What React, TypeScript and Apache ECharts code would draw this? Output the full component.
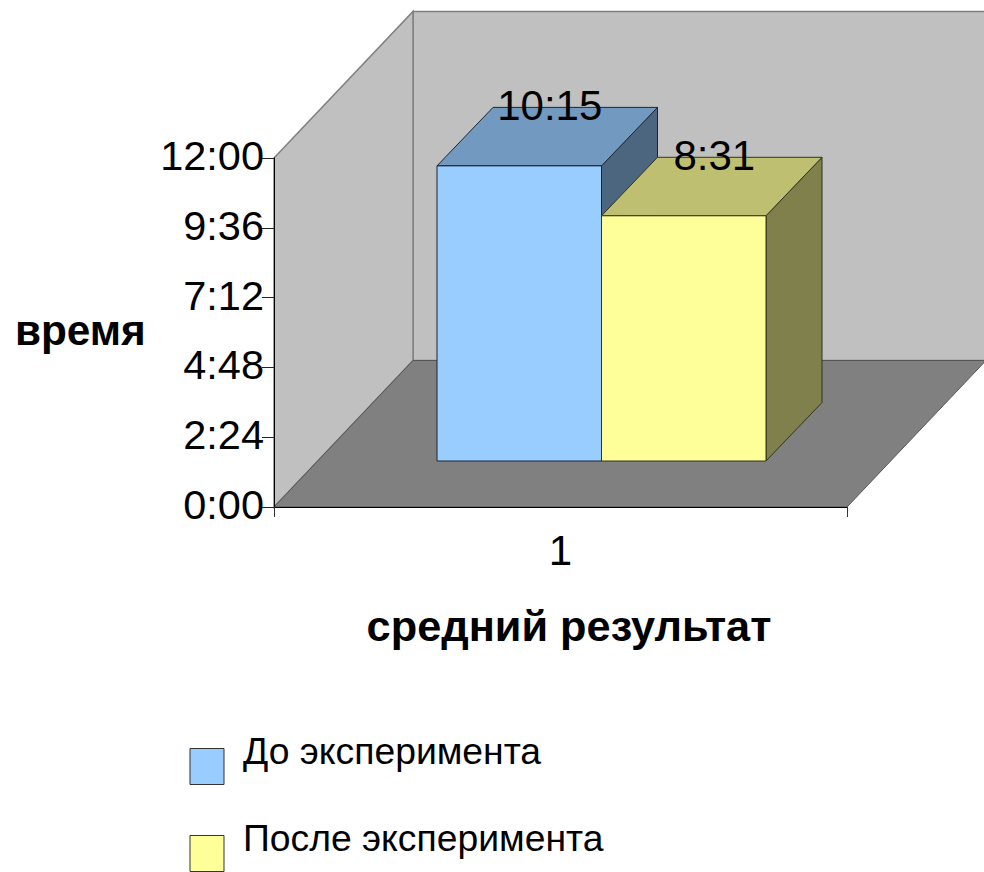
import React, { useEffect, useRef } from "react";
import * as echarts from "echarts";

const FONT = '"Liberation Sans", Arial, sans-serif';

const categories = ["1"];
const seriesNames = ["До эксперимента", "После эксперимента"];
// Average time in minutes (10:15 and 8:31).
const beforeValues = [615];
const afterValues = [511];
const yTickStep = 144;
const yMax = 720;

const xTitle = "средний результат";
const yTitle = "время";

// Oblique projection of the 3D box.
const WALL_DX = 139;
const WALL_DY = 146.5;
const BAR_SHIFT_X = 41;
const BAR_SHIFT_Y = 46;
const BAR_DX = 56;
const BAR_DY = 58.5;
const BAR_BAND = 164.5 / 573;
const FRONT_SCALE = 0.99;

const faces = [
  { front: "#99ccff", top: "#7299bf", side: "#4c6680", edge: "#1a2633" },
  { front: "#ffff99", top: "#bfbf72", side: "#80804c", edge: "#33331e" },
];

const clock = (minutes: number) =>
  `${Math.floor(minutes / 60)}:${String(minutes % 60).padStart(2, "0")}`;

const poly = (points: number[][], fill: string, stroke: string, lineWidth = 1) => ({
  type: "polygon",
  shape: { points },
  style: { fill, stroke, lineWidth },
});

function renderWalls(_: any, api: any) {
  const [x0] = api.coord([0, 0]);
  const band = api.size([1, 0])[0];
  const x1 = x0 - band / 2;
  const x2 = x0 + band / 2;
  const yBase = api.coord([0, 0])[1];
  const yTop = api.coord([0, yMax])[1];
  const dx = WALL_DX;
  const dy = WALL_DY;
  return {
    type: "group",
    children: [
      poly(
        [[x1 + dx, yTop - dy], [x2 + dx, yTop - dy], [x2 + dx, yBase - dy], [x1 + dx, yBase - dy]],
        "#c0c0c0",
        "#808080",
        1.5
      ),
      poly(
        [[x1, yTop], [x1 + dx, yTop - dy], [x1 + dx, yBase - dy], [x1, yBase]],
        "#c0c0c0",
        "#808080",
        1.5
      ),
      poly(
        [[x1, yBase], [x2, yBase], [x2 + dx, yBase - dy], [x1 + dx, yBase - dy]],
        "#808080",
        "#555555",
        1
      ),
    ],
  };
}

function makeBarRenderer(index: number) {
  return (_: any, api: any) => {
    const value = api.value(1);
    const center = api.coord([api.value(0), 0])[0];
    const zeroY = api.coord([0, 0])[1];
    const band = api.size([1, 0])[0];
    const w = band * BAR_BAND;
    const left = center + BAR_SHIFT_X + (index - 1) * w;
    const right = left + w;
    const bottom = zeroY - BAR_SHIFT_Y;
    const top = bottom - (zeroY - api.coord([0, value])[1]) * FRONT_SCALE;
    const c = faces[index];
    return {
      type: "group",
      children: [
        poly(
          [[right, top], [right + BAR_DX, top - BAR_DY], [right + BAR_DX, bottom - BAR_DY], [right, bottom]],
          c.side,
          c.edge
        ),
        poly(
          [[left, top], [left + BAR_DX, top - BAR_DY], [right + BAR_DX, top - BAR_DY], [right, top]],
          c.top,
          c.edge
        ),
        poly([[left, top], [right, top], [right, bottom], [left, bottom]], c.front, c.edge),
        {
          type: "text",
          z2: 100,
          x: (left + right) / 2 + 30.5,
          y: top - BAR_DY - 1.5,
          style: {
            text: clock(value),
            fill: "#000",
            font: `42px ${FONT}`,
            align: "center",
            verticalAlign: "middle",
          },
        },
      ],
    };
  };
}

export default function App() {
  const ref = useRef<HTMLDivElement>(null);

  useEffect(() => {
    document.body.style.margin = "0";
    const chart = echarts.init(ref.current!, undefined, { renderer: "svg" });
    chart.setOption({
      animation: false,
      backgroundColor: "#ffffff",
      textStyle: { fontFamily: FONT },
      grid: { left: 274, top: 158, width: 573, height: 349, containLabel: false },
      xAxis: {
        type: "category",
        data: categories,
        z: 10,
        axisLine: { lineStyle: { color: "#000", width: 1 } },
        axisTick: { show: true, length: 10, lineStyle: { color: "#333" } },
        axisLabel: { color: "#000", fontSize: 42, fontFamily: FONT, margin: 22 },
        splitLine: { show: false },
      },
      yAxis: {
        type: "value",
        min: 0,
        max: yMax,
        interval: yTickStep,
        z: 10,
        axisLine: { show: true, lineStyle: { color: "#000", width: 1 } },
        axisTick: { show: true, length: 12, lineStyle: { color: "#222" } },
        axisLabel: {
          color: "#000",
          fontFamily: FONT,
          margin: 10,
          formatter: (v: number) => `{v|${clock(v)}}`,
          rich: {
            v: {
              fontSize: 41.5,
              fontFamily: FONT,
              color: "#000",
              padding: [0, 0, 5, 0],
            },
          },
        },
        splitLine: { show: false },
      },
      legend: {
        orient: "vertical",
        left: 189.5,
        top: 732,
        height: 400,
        padding: 0,
        itemWidth: 34,
        itemHeight: 36,
        itemGap: 34,
        icon: "rect",
        data: seriesNames,
        selectedMode: false,
        itemStyle: { borderColor: "#333", borderWidth: 1 },
        // The caption sits above the swatch's centre: the bottom padding lifts it.
        formatter: (name: string) => `{t|${name}}`,
        textStyle: {
          color: "#000",
          fontFamily: FONT,
          rich: {
            t: {
              fontSize: 37.3,
              fontFamily: FONT,
              color: "#000",
              padding: [0, 0, 32, 14],
            },
          },
        },
      },
      graphic: [
        {
          type: "text",
          x: 15,
          y: 330,
          style: {
            text: yTitle,
            fill: "#000",
            font: `bold 42.3px ${FONT}`,
            verticalAlign: "middle",
          },
        },
        {
          type: "text",
          x: 569,
          y: 626,
          style: {
            text: xTitle,
            fill: "#000",
            font: `bold 43.3px ${FONT}`,
            align: "center",
            verticalAlign: "middle",
          },
        },
      ],
      series: [
        {
          type: "custom",
          name: "walls",
          z: 1,
          clip: false,
          silent: true,
          renderItem: renderWalls,
          encode: { x: 0, y: 1 },
          data: [[0, 0]],
        },
        {
          type: "custom",
          name: seriesNames[0],
          z: 3,
          clip: false,
          itemStyle: { color: faces[0].front },
          renderItem: makeBarRenderer(0),
          encode: { x: 0, y: 1 },
          data: beforeValues.map((v, i) => [i, v]),
        },
        {
          type: "custom",
          name: seriesNames[1],
          z: 4,
          clip: false,
          itemStyle: { color: faces[1].front },
          renderItem: makeBarRenderer(1),
          encode: { x: 0, y: 1 },
          data: afterValues.map((v, i) => [i, v]),
        },
      ],
    });
    return () => chart.dispose();
  }, []);

  return <div ref={ref} style={{ width: 984, height: 872 }} />;
}
